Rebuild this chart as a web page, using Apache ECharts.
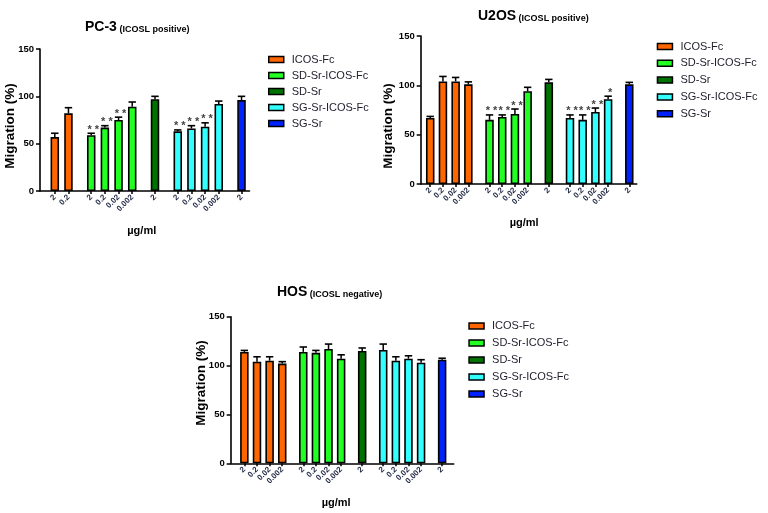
<!DOCTYPE html>
<html><head><meta charset="utf-8">
<script src="https://cdn.jsdelivr.net/npm/echarts@6/dist/echarts.min.js"></script>
<style>html,body{margin:0;padding:0;background:#fff}#c{width:768px;height:513px}</style>
</head><body><div id="c"></div><script>
// ---------- data ----------
const groupNames = ['ICOS-Fc', 'SD-Sr-ICOS-Fc', 'SD-Sr', 'SG-Sr-ICOS-Fc', 'SG-Sr'];
const groupColors = ['#FF6600', '#22FF22', '#007200', '#33FFFF', '#0022FF'];
const yTicks = [0, 50, 100, 150];
const xUnit = 'µg/ml';
const yLabel = 'Migration (%)';

const pc3Doses  = [['2','0.2'], ['2','0.2','0.02','0.002'], ['2'], ['2','0.2','0.02','0.002'], ['2']];
const pc3Values = [[57, 82], [59, 67, 75, 89], [97], [63, 66, 68, 92], [96]];
const pc3Errors = [[4, 6], [2, 2, 3, 5], [3], [1.5, 3, 4, 3], [4]];
const pc3Stars  = [['', ''], ['**', '**', '**', ''], [''], ['**', '**', '**', ''], ['']];

const u2osDoses  = [['2','0.2','0.02','0.002'], ['2','0.2','0.02','0.002'], ['2'], ['2','0.2','0.02','0.002'], ['2']];
const u2osValues = [[67, 104, 104, 101], [65, 68, 71, 94], [103], [67, 65, 73, 86], [101]];
const u2osErrors = [[1.5, 5, 4, 2.5], [5, 2, 5, 4], [3], [3, 5, 4, 3], [2]];
const u2osStars  = [['', '', '', ''], ['**', '**', '**', ''], [''], ['**', '**', '**', '*'], ['']];

const hosDoses  = [['2','0.2','0.02','0.002'], ['2','0.2','0.02','0.002'], ['2'], ['2','0.2','0.02','0.002'], ['2']];
const hosValues = [[114, 104, 105, 102], [114, 113, 117, 107], [115], [116, 105, 107, 103], [106]];
const hosErrors = [[1.5, 5, 4, 2], [5, 2.5, 5, 4], [3], [6, 4, 3, 3], [1.5]];
const hosStars  = [['', '', '', ''], ['', '', '', ''], [''], ['', '', '', ''], ['']];

const titles = [['PC-3', '(ICOSL positive)'], ['U2OS', '(ICOSL positive)'], ['HOS', '(ICOSL negative)']];

// ---------- layout ----------
const FONT = "'Liberation Sans', Arial, sans-serif";
const SLOT = 6, GAP = 10;
const panels = [
  {doses: pc3Doses, values: pc3Values, errors: pc3Errors, stars: pc3Stars,
   grid: {left: 40, top: 49, width: 209.5, height: 142}, lead: 6, total: 92,
   title: {left: 85, top: 20}, legend: {left: 268, top: 52.5, gap: 2}, yName: {x: 10, y: 126}, xNamePad: 6, xNameGap: 34},
  {doses: u2osDoses, values: u2osValues, errors: u2osErrors, stars: u2osStars,
   grid: {left: 420.7, top: 36, width: 216, height: 148}, lead: 4, total: 102,
   title: {left: 478, top: 9.5}, legend: {left: 656.7, top: 39.5, gap: 2.8}, yName: {x: 388, y: 126}, xNamePad: 9, xNameGap: 33},
  {doses: hosDoses, values: hosValues, errors: hosErrors, stars: hosStars,
   grid: {left: 230.7, top: 316.7, width: 223, height: 146.6}, lead: 6, total: 106,
   title: {left: 277, top: 285}, legend: {left: 468.3, top: 319, gap: 3}, yName: {x: 201, y: 383}, xNamePad: 12, xNameGap: 34.5}
];

const option = {animation: false, backgroundColor: '#fff', title: [], grid: [], xAxis: [], yAxis: [], legend: [], series: [], graphic: []};

panels.forEach((p, k) => {
  const cats = new Array(p.total).fill('');
  const groupData = groupNames.map(() => new Array(p.total).fill('-'));
  const errData = [];
  const starList = [];
  let idx = p.lead;
  p.doses.forEach((doses, g) => {
    doses.forEach((d, j) => {
      cats[idx] = d;
      groupData[g][idx] = p.values[g][j];
      errData.push([idx, p.values[g][j], p.errors[g][j]]);
      starList.push(p.stars[g][j]);
      if (j < doses.length - 1) idx += SLOT;
    });
    idx += GAP;
  });

  option.title.push({
    text: '{a|' + titles[k][0] + '}{b| ' + titles[k][1] + '}',
    left: p.title.left, top: p.title.top, padding: 0,
    textStyle: {rich: {
      a: {fontSize: 14, fontWeight: 'bold', fontFamily: FONT, color: '#000', verticalAlign: 'bottom'},
      b: {fontSize: 9, fontWeight: 'bold', fontFamily: FONT, color: '#000', verticalAlign: 'bottom'}
    }}
  });
  option.grid.push(Object.assign({containLabel: false}, p.grid));
  option.xAxis.push({
    type: 'category', gridIndex: k, data: cats, boundaryGap: true,
    name: xUnit, nameLocation: 'middle', nameGap: p.xNameGap,
    nameTextStyle: {fontFamily: FONT, fontWeight: 'bold', fontSize: 11, color: '#000', padding: [0, p.xNamePad, 0, 0]},
    axisLine: {show: true, lineStyle: {color: '#000', width: 1.6}},
    axisTick: {show: true, alignWithLabel: true, length: 3, interval: (i, v) => v !== '', lineStyle: {color: '#000', width: 1.5}},
    axisLabel: {interval: 0, rotate: 45, margin: 5, fontFamily: FONT, fontWeight: 'bold', fontSize: 8, color: '#1b2440'},
    splitLine: {show: false}
  });
  option.yAxis.push({
    type: 'value', gridIndex: k, min: yTicks[0], max: yTicks[yTicks.length - 1], interval: yTicks[1] - yTicks[0],
    axisLine: {show: true, lineStyle: {color: '#000', width: 1.6}},
    axisTick: {show: true, length: 4, lineStyle: {color: '#000', width: 1.5}},
    axisLabel: {margin: 6, fontFamily: FONT, fontWeight: 'bold', fontSize: 9.5, color: '#000'},
    splitLine: {show: false}
  });
  groupNames.forEach((name, g) => {
    option.series.push({
      type: 'bar', name: name, xAxisIndex: k, yAxisIndex: k, data: groupData[g],
      barWidth: 8.5, barGap: '-100%',
      itemStyle: {color: groupColors[g], borderColor: '#000', borderWidth: 1.6}
    });
  });
  option.series.push({
    type: 'custom', name: 'err' + k, xAxisIndex: k, yAxisIndex: k, z: 5,
    data: errData, encode: {x: 0, y: 1},
    renderItem: (params, api) => {
      const x = api.value(0), v = api.value(1), e = api.value(2);
      const p0 = api.coord([x, v]);
      const p1 = api.coord([x, v + e]);
      const children = [
        {type: 'line', shape: {x1: p0[0], y1: p0[1], x2: p1[0], y2: p1[1]}, style: {stroke: '#000', lineWidth: 1.5}},
        {type: 'line', shape: {x1: p1[0] - 3.7, y1: p1[1], x2: p1[0] + 3.7, y2: p1[1]}, style: {stroke: '#000', lineWidth: 1.6}}
      ];
      const s = starList[params.dataIndex];
      if (s) {
        children.push({type: 'text', x: p1[0] + 2, y: p1[1] + 2,
          style: {text: s.split('').join(' '), fill: '#444', font: 'bold 11px ' + FONT, align: 'center', verticalAlign: 'bottom'}});
      }
      return {type: 'group', children: children};
    }
  });
  option.legend.push({
    data: groupNames, orient: 'vertical', left: p.legend.left, top: p.legend.top, padding: 0,
    itemGap: p.legend.gap, itemWidth: 15, itemHeight: 6, icon: 'rect', selectedMode: false,
    itemStyle: {borderColor: '#000', borderWidth: 1.5},
    textStyle: {fontFamily: FONT, fontSize: 11, color: '#1e1e2c', lineHeight: 14, padding: [0, 0, 0, 3]}
  });
  option.graphic.push({
    type: 'text', x: p.yName.x, y: p.yName.y, rotation: Math.PI / 2, z: 10,
    style: {text: yLabel, font: 'bold 13.5px ' + FONT, fill: '#000', align: 'center', verticalAlign: 'middle'}
  });
});
// the U2OS axis title is clipped on its left side in the reference
option.graphic.push({type: 'rect', shape: {x: 377, y: 70, width: 6.5, height: 110}, style: {fill: '#fff'}, z: 20});

const chart = echarts.init(document.getElementById('c'), null, {renderer: 'canvas'});
chart.setOption(option);
</script></body></html>
